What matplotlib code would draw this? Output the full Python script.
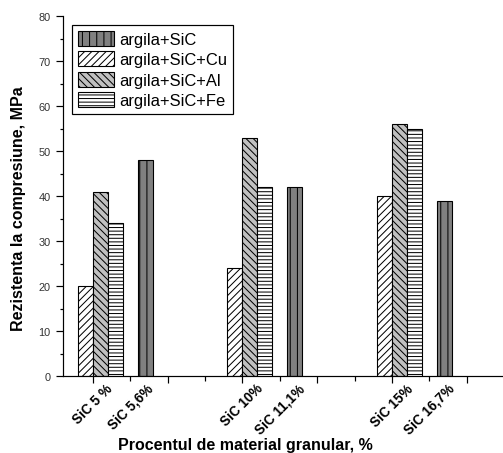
import matplotlib
matplotlib.use("Agg")
import matplotlib.pyplot as plt
import numpy as np

plt.rcParams['font.family'] = ['Liberation Sans', 'DejaVu Sans']

DPI = 86
def pt(px):
    return px * 72.0 / DPI

plt.rcParams['hatch.linewidth'] = pt(1.0)

# data
labels = ['SiC 5 %', 'SiC 5,6%', 'SiC 10%', 'SiC 11,1%', 'SiC 15%', 'SiC 16,7%']
label_pos = [1, 2, 5, 6, 9, 10]
groups_sic = [2, 6, 10]          # category positions of the plain argila+SiC bars
groups_mix = [1, 5, 9]           # category positions of the Cu / Al / Fe groups
val_sic = [48, 42, 39]
val_cu = [20, 24, 40]
val_al = [41, 53, 56]
val_fe = [34, 42, 55]
series_names = ['argila+SiC', 'argila+SiC+Cu', 'argila+SiC+Al', 'argila+SiC+Fe']

w = 0.4
f = plt.figure(figsize=(503/DPI, 454/DPI), dpi=DPI)
ax = f.add_axes([63/503, 77/454, 440/503, 360/454])

xs = np.array(groups_sic)
xm = np.array(groups_mix)
blw = pt(1.1)
b1 = ax.bar(xs + 0.4, val_sic, w, color='#808080', edgecolor='k', hatch='||', lw=blw)
b2 = ax.bar(xm - 0.2, val_cu, w, color='white', edgecolor='k', hatch='////', lw=blw)
b3 = ax.bar(xm + 0.2, val_al, w, color='#c0c0c0', edgecolor='k', hatch='\\\\\\\\', lw=blw)
b4 = ax.bar(xm + 0.6, val_fe, w, color='white', edgecolor='k', hatch='----', lw=blw)

ax.set_xlim(0.2, 11.97)
ax.set_ylim(0, 80)
ax.spines['top'].set_visible(False)
ax.spines['right'].set_visible(False)
for s in ['left', 'bottom']:
    ax.spines[s].set_linewidth(pt(1.2))

# ticks at every position, only some of them labelled
allpos = list(range(1, 12))
ax.set_xticks(allpos)
ax.set_xticklabels([labels[label_pos.index(p)] if p in label_pos else '' for p in allpos],
                   rotation=45, ha='center', fontsize=pt(13.5), fontweight='bold')
ax.tick_params(axis='x', direction='out', length=pt(7), width=pt(1.2), pad=pt(-2))
for t, p in zip(ax.xaxis.get_major_ticks(), allpos):
    if p % 2 == 0:
        t.tick1line.set_markersize(pt(5))

ax.set_yticks(np.arange(0, 81, 10))
ax.set_yticks(np.arange(5, 80, 10), minor=True)
ax.tick_params(axis='y', which='major', direction='out', length=pt(7.3), width=pt(1.2),
               labelsize=pt(11), labelcolor='#333333', pad=pt(5))
ax.tick_params(axis='y', which='minor', direction='out', length=pt(3.5), width=pt(1.2))

f.text(245/503, 1 - 446/454, 'Procentul de material granular, %', ha='center', va='center',
       fontsize=pt(16), fontweight='bold')
f.text(19/503, 1 - 209/454, 'Rezistenta la compresiune, MPa', ha='center', va='center',
       rotation=90, fontsize=pt(16), fontweight='bold')

leg = ax.legend([b1, b2, b3, b4], series_names, loc='upper left',
                bbox_to_anchor=(9/440, 1 - 9/360), borderaxespad=0, fontsize=pt(16.5),
                fancybox=False, framealpha=1, edgecolor='k', handlelength=2.2,
                handleheight=1.05, handletextpad=0.3, labelspacing=0.25, borderpad=0.35)
leg.get_frame().set_linewidth(pt(1.2))

plt.savefig('out.png', dpi=DPI)
